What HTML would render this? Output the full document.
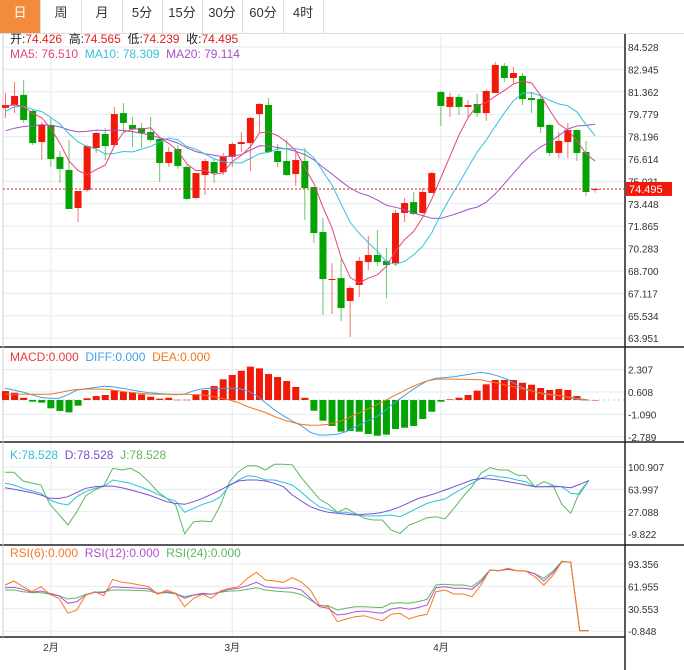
<!DOCTYPE html>
<html><head><meta charset="utf-8"><style>
body{margin:0;background:#fff;font-family:"Liberation Sans","Noto Sans CJK SC",sans-serif;}
#wrap{position:relative;width:684px;height:670px;overflow:hidden;}
.tabs{position:absolute;left:0;top:0;width:684px;height:33px;border-bottom:1px solid #ddd;background:#fff;}
.tab{position:absolute;top:0;height:33px;width:40px;border-right:1px solid #ddd;text-align:center;line-height:25px;font-size:13px;color:#333;}
.tab.on{background:#f28c3c;color:#fff;}
</style></head><body>
<div id="wrap">
<div class="tabs">
<div class="tab on" style="left:0">日</div>
<div class="tab" style="left:41px">周</div>
<div class="tab" style="left:82px">月</div>
<div class="tab" style="left:122px">5分</div>
<div class="tab" style="left:162px">15分</div>
<div class="tab" style="left:202px">30分</div>
<div class="tab" style="left:243px">60分</div>
<div class="tab" style="left:283px">4时</div>
</div>
<svg id="chart" width="684" height="670" style="position:absolute;left:0;top:0"></svg>
</div>
<script>
const opens=[80.22,80.43,81.14,80.01,77.81,79.02,76.76,75.84,73.15,74.42,77.39,78.38,77.60,79.86,79.02,78.80,78.52,78.03,76.33,77.32,76.05,73.86,75.48,76.40,75.69,76.76,77.67,77.74,79.79,80.43,77.18,76.47,75.55,76.47,74.63,71.45,68.13,68.20,66.58,67.71,69.33,69.83,69.41,69.26,72.80,73.57,72.80,74.21,81.35,80.29,81.00,80.29,80.50,79.86,81.28,83.19,82.34,82.48,80.92,80.85,79.02,77.04,77.81,78.66,77.11,74.426];
const highs=[81.28,82.05,82.20,80.08,79.23,79.58,77.18,77.96,74.35,77.60,78.52,78.80,80.29,80.57,79.58,79.16,79.58,78.10,77.46,77.60,76.19,75.62,76.61,76.69,77.04,77.81,78.52,79.58,80.57,80.92,77.67,77.96,77.11,77.39,74.63,72.44,69.26,69.55,67.64,69.69,71.17,71.60,70.32,73.01,73.86,74.28,74.56,75.69,81.42,81.28,81.21,80.78,81.21,81.56,83.47,83.40,83.12,82.69,81.35,81.00,79.09,78.52,79.16,78.66,77.89,74.565];
const lows=[79.51,79.86,79.16,77.60,76.54,76.05,74.92,73.08,72.16,74.28,77.04,76.54,77.46,78.45,77.46,77.39,77.81,74.99,76.05,75.91,73.72,73.79,74.07,74.92,75.48,76.05,77.11,75.77,78.45,77.04,76.05,75.41,74.71,72.30,70.68,65.59,65.66,65.17,64.03,66.86,68.77,69.05,66.79,69.05,72.16,72.66,72.73,74.21,78.95,79.58,79.72,79.58,79.58,79.30,81.28,82.05,81.98,80.43,79.86,78.45,76.83,76.69,76.69,76.47,74.00,74.239];
const closes=[80.43,81.07,79.37,77.74,79.02,76.61,75.91,73.08,74.35,77.53,78.45,77.53,79.79,79.16,78.73,78.45,77.96,76.33,77.11,76.12,73.79,75.62,76.47,75.62,76.76,77.67,77.81,79.51,80.50,77.11,76.40,75.48,76.54,74.56,71.38,68.13,68.13,66.08,67.50,69.41,69.83,69.33,69.12,72.80,73.50,72.73,74.28,75.62,80.36,81.00,80.29,80.43,79.86,81.42,83.26,82.34,82.69,80.85,80.78,78.87,77.04,77.89,78.66,77.04,74.28,74.495];
const priorCloses=[77.5,77.0,76.8,77.2,77.8,78.0,77.5,77.0,76.5,77.0,78.0,79.0,80.0,80.5,80.8,80.5,80.0,80.2,80.5];
const macdHist=[0.68,0.55,0.17,-0.13,-0.2,-0.63,-0.83,-0.94,-0.43,0.13,0.3,0.38,0.76,0.63,0.58,0.43,0.25,0.1,0.17,0.02,0.02,0.43,0.76,1.06,1.57,1.9,2.22,2.53,2.4,1.97,1.75,1.44,0.99,0.17,-0.81,-1.57,-1.97,-2.4,-2.35,-2.4,-2.58,-2.71,-2.63,-2.2,-2.1,-1.97,-1.44,-0.89,-0.13,0.05,0.17,0.38,0.71,1.19,1.52,1.52,1.52,1.31,1.16,0.91,0.76,0.83,0.76,0.3,0,0];
const macdDiff=[0.89,0.75,0.6,0.4,0.2,0.13,0.13,0.4,0.75,0.85,0.95,1.05,1.0,0.9,0.78,0.65,0.55,0.5,0.45,0.4,0.45,0.7,0.85,0.89,0.89,0.89,0.88,0.7,0.35,-0.2,-0.75,-1.2,-1.6,-1.95,-2.45,-2.66,-2.65,-2.6,-2.4,-2.05,-1.7,-1.4,-1.0,-0.4,0.1,0.6,1.05,1.45,1.65,1.7,1.77,1.88,1.98,2.1,2.0,1.8,1.55,1.15,0.85,0.62,0.5,0.4,0.33,0.15,0.02,0];
const macdDea=[0.43,0.43,0.43,0.43,0.43,0.43,0.55,0.7,0.8,0.83,0.83,0.83,0.75,0.65,0.58,0.5,0.45,0.43,0.43,0.43,0.43,0.42,0.38,0.3,0.15,0,-0.2,-0.5,-0.72,-0.95,-1.25,-1.5,-1.7,-1.85,-1.92,-1.9,-1.85,-1.65,-1.45,-1.1,-0.8,-0.5,-0.15,0.2,0.55,0.9,1.2,1.45,1.58,1.59,1.59,1.58,1.56,1.53,1.4,1.25,1.1,0.95,0.8,0.62,0.45,0.38,0.3,0.2,0.1,0];
const kVals=[74,71.2,65.8,61.4,57.6,46.5,41,38.3,52,60.2,65.8,68.4,79.5,76.7,74,68.4,63,55.9,49.3,44.9,26.3,32.8,39.4,43.7,52,70.1,79.5,86.6,84.9,79.5,79.5,75.6,71.2,59.5,46.5,35.5,31.2,26.3,26.3,23,20.2,20.2,20.7,21.8,19,26.3,33.8,41,44.9,48.2,57.6,65.8,74,82.2,87.7,84.9,83.3,79.5,76.7,68.4,68.4,70.1,68.4,57.6,55.9,78.528];
const dVals=[66.8,64.1,61.4,58.6,54.8,49.3,49,52,59,65.8,68.4,69.5,69.5,66.8,63,59,54.8,49.3,43.7,41,39.4,43.7,49.3,55.9,63,71.2,77.8,79.5,79.5,77.8,74,68.4,54.8,44.9,35.5,30.1,26.3,24.6,23,21.8,23,24,26.3,30.1,35.5,42.1,49,53.1,57.6,63,68.4,74,79.5,82.2,81.1,79.5,76.7,74,71.2,68.4,68.4,68.4,68.4,66.8,72.3,78.528];
const jVals=[92.2,92.2,77.8,74.5,71.2,39.4,23,5.3,27.3,53.6,63,70.1,98.7,96,98.7,90.5,76.7,60.2,49.3,38.3,-9,10.8,11.9,10.8,38.3,76.7,93.2,103,103,96,105.3,105.3,104.5,83.5,65.8,48.2,39.4,26.3,32.8,24.6,16.4,13.6,13.6,-2.9,-8.3,5.3,10.8,17.4,19,15.2,32.8,52,68.4,90.5,99.8,96,96,87.7,86.6,68.4,76.7,71.2,39.4,24.6,60,78.528];
const rsi6=[63.9,69.5,61.5,54.5,61.5,50.9,45.3,24.2,28.9,49.9,54.5,48.9,71.9,67.7,66.3,63.9,61.5,50.9,56.9,52.3,33.5,45.3,50.9,45.3,55.5,59.3,61.5,73.3,81.7,70.9,69.5,67.7,74.2,68.1,56.9,35.9,33.5,12.5,16.3,19.5,20.9,17.3,13.9,22.8,24.2,16.3,20.5,22.8,54.5,56.9,51.3,51.3,47.5,63.9,84.9,84,87.3,84,83.5,75.6,63.9,77,96.6,96,0,0];
const rsi12=[60.1,60.5,57.9,53.7,55.5,52.3,48.9,38.2,40.6,49.9,53.7,53.3,61.5,60.5,60.1,59.3,58.4,52.3,54.5,52.3,45.3,49.9,52.3,50.9,54.5,57.9,59.3,62.9,67.7,61.5,60.1,59.3,60.1,56.9,45.3,33.5,31.2,21.9,23.2,26.5,27.5,25.7,24.2,30.3,32.2,29.9,32.2,35.9,60.1,61.5,59.3,59.3,57.9,68.1,84.9,84,86,84,83.5,79.8,69.5,80.7,96.6,96,0,0];
const rsi24=[56.9,56.9,54.5,53.3,53.3,50.9,48.9,44.3,45.9,50.9,53.7,54.5,56.9,56.9,56.5,56.2,55.5,52.3,53.3,51.5,47.5,49.9,50.9,50.9,53.7,55.5,55.9,57.9,60.1,56.9,55.5,54.5,53.7,50.4,42.9,34.9,34.9,28.9,31.2,33.5,33.5,32.6,32.2,38.2,39.1,38.2,40.6,43.8,63.9,65,63.9,63.9,61.5,70.9,84.9,84,86,84,83.1,79.8,73.3,83.1,97.2,96,0,0];
const priceTicks=[84.528,82.945,81.362,79.779,78.196,76.614,75.031,73.448,71.865,70.283,68.700,67.117,65.534,63.951];
const macdTicks=[2.307,0.608,-1.090,-2.789];
const kdjTicks=[100.907,63.997,27.088,-9.822];
const rsiTicks=[93.356,61.955,30.553,-0.848];
const monthLabels=["2月","3月","4月"];
const monthIndex=[5,25,48];

const NS="http://www.w3.org/2000/svg", svg=document.getElementById('chart');
function el(t,a,parent){const e=document.createElementNS(NS,t);for(const k in a)e.setAttribute(k,a[k]);(parent||svg).appendChild(e);return e;}
const N=closes.length, RED="#f0190a", GREEN="#04a304";
const xi=i=>5.5+i*9.07;
const xl=i=>5+i*8.98;
const yP=v=>47+(84.528-v)*14.15;
const yM=v=>392+(0.608-v)*13.18;
const yK=v=>467+(100.907-v)*0.6069;
const yR=v=>564+(93.356-v)*0.7134;

function hgrid(ticks,f,name){ticks.forEach(t=>{const g=el('line',{x1:3,x2:624,y1:f(t),y2:f(t),stroke:'#e3ecf0','stroke-width':1});
const tx=el('text',{x:628,y:f(t)+4,'font-size':10,fill:'#333'});tx.textContent=t.toFixed(3);});}
hgrid(priceTicks,yP,'price');hgrid(macdTicks,yM,'macd');hgrid(kdjTicks,yK,'kdj');hgrid(rsiTicks,yR,'rsi');
monthIndex.forEach((m,k)=>{const x=xi(m);const g=el('line',{x1:x,x2:x,y1:34,y2:637,stroke:'#e3ecf0'});
const t=el('text',{x:x,y:651,'font-size':10,fill:'#333','text-anchor':'middle'});t.textContent=monthLabels[k];});
[347,442,545].forEach(y=>{const l=el('line',{x1:0,x2:684,y1:y,y2:y,stroke:'#222','stroke-width':1.5});});
let fl=el('line',{x1:0,x2:625,y1:637,y2:637,stroke:'#222','stroke-width':1.5});
fl=el('line',{x1:625,x2:625,y1:34,y2:670,stroke:'#222','stroke-width':1.5});
fl=el('line',{x1:3,x2:3,y1:34,y2:637,stroke:'#ccc','stroke-width':1});

const all=priorCloses.concat(closes), P=priorCloses.length;
function ma(n){return closes.map((c,i)=>{const j=i+P;let s=0,k=0;for(let q=Math.max(0,j-n+1);q<=j;q++){s+=all[q];k++;}return s/k;});}
const ma5=ma(5),ma10=ma(10),ma20=ma(20);

function line(arr,f,color,name,xf){xf=xf||xi;const d=arr.map((v,i)=>(i?'L':'M')+xf(i).toFixed(1)+' '+f(v).toFixed(1)).join('');const p=el('path',{d:d,fill:'none',stroke:color,'stroke-width':1});}

for(let i=0;i<N;i++){const up=closes[i]>=opens[i],c=up?RED:GREEN,x=xi(i);
const g=el('g',{});
el('line',{x1:x,x2:x,y1:yP(highs[i]),y2:yP(lows[i]),stroke:c,'stroke-opacity':0.6,'stroke-width':1},g);
const t=yP(Math.max(opens[i],closes[i])),b=yP(Math.min(opens[i],closes[i]));
el('rect',{x:x-3.5,y:t,width:7,height:Math.max(1,b-t),fill:c},g);}
line(ma20,yP,'#a64fc8','ma20-line');line(ma10,yP,'#33c3da','ma10-line');line(ma5,yP,'#e8437c','ma5-line');
const yl=yP(closes[N-1]);
let ln=el('line',{x1:3,x2:624,y1:yl,y2:yl,stroke:'#e02020','stroke-dasharray':'2,2'});
let bx=el('rect',{x:626,y:yl-7,width:46,height:14,fill:'#f0190a'});
let bt=el('text',{x:629,y:yl+4,'font-size':11,fill:'#fff'});bt.textContent=closes[N-1].toFixed(3);

let zl=el('line',{x1:3,x2:624,y1:yM(0),y2:yM(0),stroke:'#9fdff0','stroke-dasharray':'2,3'});
macdHist.forEach((v,i)=>{const y0=yM(0),y1=yM(v);const r=el('rect',{x:xi(i)-3.5,y:Math.min(y0,y1),width:7,height:Math.max(0.5,Math.abs(y1-y0)),fill:v>=0?RED:GREEN});});
line(macdDiff,yM,'#3fa0e8','diff-line',xl);line(macdDea,yM,'#f07818','dea-line',xl);
line(jVals,yK,'#5cb85c','j-line',xl);line(kVals,yK,'#2cc3d8','k-line',xl);line(dVals,yK,'#7b4fd0','d-line',xl);
line(rsi24,yR,'#5cb85c','rsi24-line',xl);line(rsi12,yR,'#b44fd2','rsi12-line',xl);line(rsi6,yR,'#f57a1e','rsi6-line',xl);

function legend(y,parts,name){const t=el('text',{x:10,y:y,'font-size':12,style:'white-space:pre'});
parts.forEach(([s,c])=>{const sp=el('tspan',{fill:c},t);sp.textContent=s;});}
legend(43,[['开:','#222'],['74.426  ','#e02020'],['高:','#222'],['74.565  ','#e02020'],['低:','#222'],['74.239  ','#e02020'],['收:','#222'],['74.495','#e02020']],'ohlc-legend');
legend(58,[['MA5: 76.510  ','#e8437c'],['MA10: 78.309  ','#33c3da'],['MA20: 79.114','#a64fc8']],'ma-legend');
legend(361,[['MACD:0.000  ','#e83a3a'],['DIFF:0.000  ','#3fa0e8'],['DEA:0.000','#f07818']],'macd-legend');
legend(459,[['K:78.528  ','#2cc3d8'],['D:78.528  ','#7b4fd0'],['J:78.528','#5cb85c']],'kdj-legend');
legend(557,[['RSI(6):0.000  ','#f57a1e'],['RSI(12):0.000  ','#b44fd2'],['RSI(24):0.000','#5cb85c']],'rsi-legend');
</script>
</body></html>
